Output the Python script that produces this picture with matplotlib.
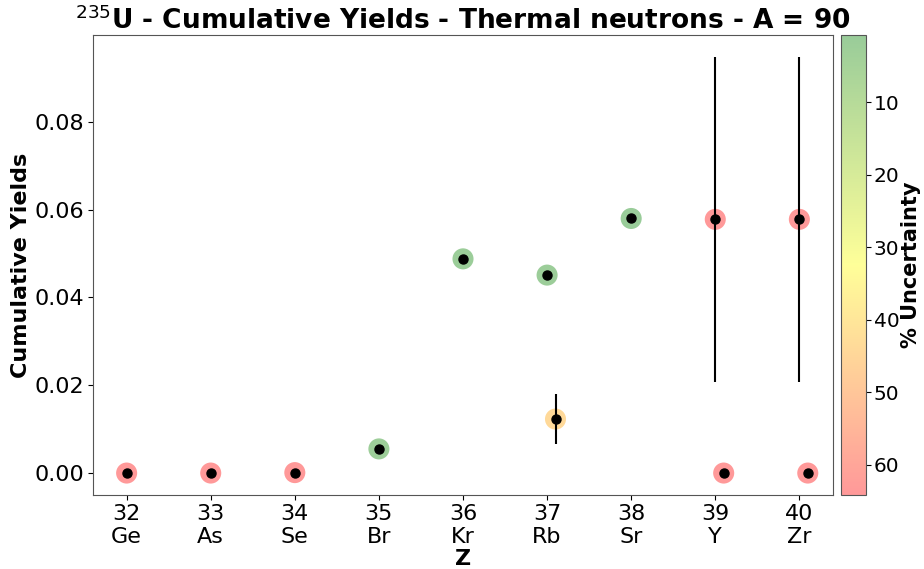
import numpy as np
import matplotlib
matplotlib.use('Agg')
import matplotlib.pyplot as plt
from matplotlib.colors import Normalize, LinearSegmentedColormap

# cumulative yields, A = 90, thermal neutrons
z = [32, 33, 34, 35, 36, 37, 38, 39, 40]
elements = ['Ge', 'As', 'Se', 'Br', 'Kr', 'Rb', 'Sr', 'Y', 'Zr']
yields = [0.0, 0.0, 0.0001, 0.0055, 0.0488, 0.0451, 0.0580, 0.0578, 0.0578]
yield_err = [0.0, 0.0, 0.0, 0.0001, 0.0007, 0.0008, 0.0004, 0.0370, 0.0370]
uncert = [64.0, 64.0, 64.0, 2.0, 1.5, 1.8, 0.7, 64.0, 64.0]

# second evaluation, drawn slightly offset
z2 = [37.1, 39.1, 40.1]
yields2 = [0.0123, 0.0, 0.0]
yield_err2 = [0.0056, 0.0, 0.0]
uncert2 = [44.0, 64.0, 64.0]

fig = plt.figure(figsize=(9.24, 5.69), dpi=100)
ax = fig.add_axes([93 / 924, 74 / 569, 740 / 924, 460 / 569])
cax = fig.add_axes([841 / 924, 74 / 569, 25 / 924, 460 / 569])

norm = Normalize(vmin=0.7, vmax=64.2)
cmap = LinearSegmentedColormap.from_list('gyr', ['green', 'yellow', 'red'])
alpha = 0.4

sc = ax.scatter(z, yields, c=uncert, cmap=cmap, norm=norm, s=230, alpha=alpha,
                edgecolors='none', zorder=2)
ax.scatter(z2, yields2, c=uncert2, cmap=cmap, norm=norm, s=230, alpha=alpha,
           edgecolors='none', zorder=2)
ax.errorbar(z, yields, yerr=yield_err, fmt='o', color='black', ms=6.5,
            elinewidth=1.5, capsize=0, zorder=3)
ax.errorbar(z2, yields2, yerr=yield_err2, fmt='o', color='black', ms=6.5,
            elinewidth=1.5, capsize=0, zorder=3)

ax.set_xlim(31.6, 40.4)
ax.set_ylim(-0.005, 0.0998)
ax.set_xticks(z)
ax.set_xticklabels(['{}\n{}'.format(a, b) for a, b in zip(z, elements)])
ax.set_yticks([0.0, 0.02, 0.04, 0.06, 0.08])
ax.tick_params(labelsize=16, pad=3)
ax.set_xlabel('Z', fontsize=16, fontweight='bold', labelpad=1)
ax.set_ylabel('Cumulative Yields', fontsize=16, fontweight='bold', labelpad=2)
ax.set_title(r'$^{235}$U - Cumulative Yields - Thermal neutrons - A = 90',
             fontsize=19, fontweight='bold', pad=3)
for s in ax.spines.values():
    s.set_color('#555555')

cb = fig.colorbar(sc, cax=cax)
cb.solids.set_alpha(alpha)
cb.set_ticks([10, 20, 30, 40, 50, 60])
cb.ax.tick_params(labelsize=14.5, pad=2)
cb.ax.invert_yaxis()
cb.set_label('% Uncertainty', fontsize=15, fontweight='bold', labelpad=1)
cb.outline.set_edgecolor('#555555')

fig.savefig('out.png', dpi=100)
